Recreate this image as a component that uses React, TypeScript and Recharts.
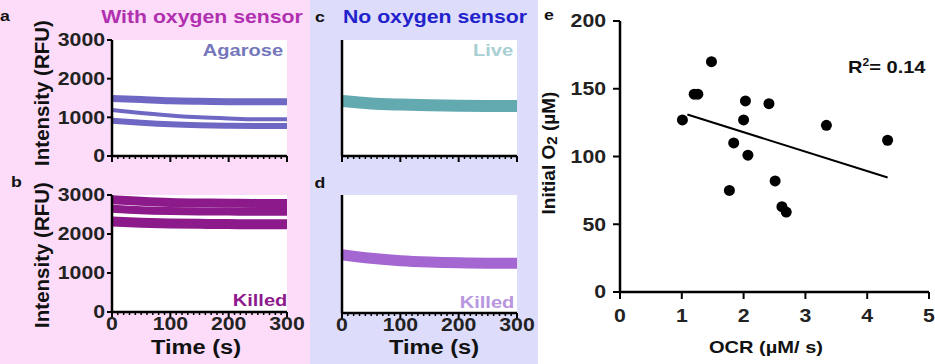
import React from 'react'
import { LineChart, Line, XAxis, YAxis, CartesianGrid, ScatterChart, Scatter } from 'recharts'

const time = [0, 50, 100, 150, 200, 250, 300]
const agaroseHigh = [1490, 1460, 1430, 1415, 1405, 1400, 1400]
const agaroseMid = [1190, 1110, 1050, 1000, 970, 950, 950]
const agaroseLow = [910, 860, 820, 795, 780, 775, 775]
const killedSensorHigh = [2880, 2840, 2810, 2795, 2790, 2785, 2785]
const killedSensorMid = [2650, 2610, 2590, 2580, 2575, 2570, 2570]
const killedSensorLow = [2320, 2290, 2270, 2260, 2255, 2250, 2250]
const liveNoSensor = [1420, 1360, 1330, 1310, 1300, 1295, 1295]
const killedNoSensor = [1480, 1390, 1330, 1295, 1275, 1265, 1265]

const timeTicks = [0, 10, 20, 30, 40, 50, 60, 70, 80, 90, 100, 110, 120, 130, 140, 150, 160, 170, 180, 190, 200, 210, 220, 230, 240, 250, 260, 270, 280, 290, 300]
const intensityTicks = [0, 1000, 2000, 3000]

// panel e
const ocr = [1.01, 1.48, 1.2, 1.26, 2.03, 2.0, 2.41, 1.84, 2.07, 3.34, 4.33, 2.51, 1.77, 2.62, 2.69]
const initialO2 = [127, 170, 146, 146, 141, 127, 139, 110, 101, 123, 112, 82, 75, 63, 59]
const fitOcr = [1.09, 4.33]
const fitO2 = [131, 84.5]
const ocrTicks = [0, 1, 2, 3, 4, 5]
const o2Ticks = [0, 50, 100, 150, 200]

const FONT = '"Liberation Sans", Arial, sans-serif'
const STRETCH = 1.18

const PINK = '#fcdcf8'
const LAVENDER = '#dddcfa'

function Txt({ x, y, size, color = '#111', rotate = false, align = 'center', children }: any) {
  const tx = align === 'center' ? '-50%' : '0'
  const transform = rotate
    ? 'translate(-50%,-50%) rotate(-90deg)'
    : `translate(${tx},-50%) scaleX(${STRETCH})`
  return (
    <div
      style={{
        position: 'absolute',
        left: x,
        top: y,
        fontFamily: FONT,
        fontWeight: 700,
        fontSize: size,
        color,
        lineHeight: 1,
        whiteSpace: 'nowrap',
        transform,
        transformOrigin: align === 'center' ? 'center' : 'left center',
      }}
    >
      {children}
    </div>
  )
}

const YTick = (props: any) => {
  const { x, y, payload } = props
  return (
    <text
      transform={`translate(${x},${y}) scale(${STRETCH},1)`}
      textAnchor="end"
      dy="0.35em"
      fontSize={18}
      fontWeight={700}
      fontFamily={FONT}
      fill="#222"
    >
      {payload.value}
    </text>
  )
}

const XTick = (props: any) => {
  const { x, y, payload } = props
  return (
    <text
      transform={`translate(${x},${y}) scale(${STRETCH},1)`}
      textAnchor="middle"
      dy="0.71em"
      fontSize={18}
      fontWeight={700}
      fontFamily={FONT}
      fill="#222"
    >
      {payload.value}
    </text>
  )
}

// minor ticks every 10 s, longer major ticks with labels every 100 s
const makeTimeTick = (show: boolean) => (props: any) => {
  const { x, y, payload } = props
  const major = payload.value % 100 === 0
  if (!major) {
    return <line x1={x} x2={x} y1={y - 4} y2={y - 1} stroke="#000" strokeWidth={1.5} />
  }
  return (
    <g>
      <line x1={x} x2={x} y1={y - 4} y2={y + 2} stroke="#000" strokeWidth={2} />
      {show && (
        <text
          transform={`translate(${x},${y + 1}) scale(${STRETCH},1)`}
          textAnchor="middle"
          dy="0.71em"
          fontSize={18}
          fontWeight={700}
          fontFamily={FONT}
          fill="#222"
        >
          {payload.value}
        </text>
      )}
    </g>
  )
}

const axisLine = { stroke: '#000', strokeWidth: 2.5 }
const tickLine = { stroke: '#000', strokeWidth: 2 }

function TracePanel({ left, top, width, height, margin, yWidth, xHeight, series, showY, showX }: any) {
  const rows = time.map((t, i) => {
    const r: any = { t }
    series.forEach((s: any, k: number) => {
      r['s' + k] = s.values[i]
    })
    return r
  })
  return (
    <div style={{ position: 'absolute', left, top }}>
      <LineChart width={width} height={height} data={rows} margin={margin}>
        <CartesianGrid fill="#fff" stroke="none" />
        <XAxis
          type="number"
          dataKey="t"
          domain={[0, 300]}
          ticks={timeTicks}
          interval={0}
          height={xHeight}
          axisLine={axisLine}
          tickLine={false}
          tickSize={3}
          tickMargin={1}
          tick={makeTimeTick(showX)}
        />
        <YAxis
          type="number"
          domain={[0, 3000]}
          ticks={intensityTicks}
          width={yWidth}
          axisLine={axisLine}
          tickLine={tickLine}
          tickSize={5}
          tickMargin={2}
          tick={showY ? <YTick /> : false}
        />
        {series.map((s: any, k: number) => (
          <Line
            key={k}
            type="monotone"
            dataKey={'s' + k}
            stroke={s.color}
            strokeWidth={s.width}
            dot={false}
            isAnimationActive={false}
          />
        ))}
      </LineChart>
    </div>
  )
}

const Dot = (props: any) => <circle cx={props.cx} cy={props.cy} r={5.5} fill="#000" />

export default function App() {
  const points = ocr.map((x, i) => ({ x, y: initialO2[i] }))
  const fit = fitOcr.map((x, i) => ({ x, y: fitO2[i] }))
  const aColor = '#6e68c4'
  const bColor = '#8c1a8a'

  return (
    <div style={{ position: 'absolute', left: 0, top: 0, width: 935, height: 364, overflow: 'hidden', background: '#fff' }}>
      <div style={{ position: 'absolute', left: 0, top: 0, width: 310, height: 364, background: PINK }} />
      <div style={{ position: 'absolute', left: 310, top: 0, width: 228, height: 364, background: LAVENDER }} />

      <TracePanel
        left={0}
        top={0}
        width={310}
        height={175}
        margin={{ top: 40, right: 23, bottom: 11, left: 0 }}
        yWidth={112}
        xHeight={8}
        showY
        showX={false}
        series={[
          { values: agaroseHigh, color: aColor, width: 7 },
          { values: agaroseMid, color: aColor, width: 4 },
          { values: agaroseLow, color: aColor, width: 6 },
        ]}
      />
      <TracePanel
        left={0}
        top={175}
        width={310}
        height={189}
        margin={{ top: 20, right: 23, bottom: 22, left: 0 }}
        yWidth={112}
        xHeight={30}
        showY
        showX
        series={[
          { values: killedSensorHigh, color: bColor, width: 9 },
          { values: killedSensorMid, color: bColor, width: 8 },
          { values: killedSensorLow, color: bColor, width: 10 },
        ]}
      />
      <TracePanel
        left={305}
        top={0}
        width={230}
        height={175}
        margin={{ top: 40, right: 18, bottom: 11, left: 0 }}
        yWidth={37}
        xHeight={8}
        showY={false}
        showX={false}
        series={[{ values: liveNoSensor, color: '#62aab0', width: 12 }]}
      />
      <TracePanel
        left={305}
        top={175}
        width={230}
        height={189}
        margin={{ top: 20, right: 18, bottom: 21, left: 0 }}
        yWidth={37}
        xHeight={30}
        showY={false}
        showX
        series={[{ values: killedNoSensor, color: '#a466d0', width: 11 }]}
      />

      <div style={{ position: 'absolute', left: 540, top: 0 }}>
        <ScatterChart width={395} height={364} margin={{ top: 21, right: 6, bottom: 42, left: 0 }}>
          <XAxis
            type="number"
            dataKey="x"
            domain={[0, 5]}
            ticks={ocrTicks}
            interval={0}
            height={30}
            axisLine={axisLine}
            tickLine={tickLine}
            tickSize={7}
            tickMargin={10}
            tick={<XTick />}
          />
          <YAxis
            type="number"
            dataKey="y"
            domain={[0, 200]}
            ticks={o2Ticks}
            interval={0}
            width={80}
            axisLine={axisLine}
            tickLine={tickLine}
            tickSize={7}
            tickMargin={7}
            tick={<YTick />}
          />
          <Scatter
            data={fit}
            line={{ stroke: '#000', strokeWidth: 2 }}
            lineType="joint"
            shape={() => <g />}
            isAnimationActive={false}
          />
          <Scatter data={points} shape={<Dot />} isAnimationActive={false} />
        </ScatterChart>
      </div>

      <Txt x={0} y={15} size={15} align="left">a</Txt>
      <Txt x={202} y={17} size={18} color="#b030b0">With oxygen sensor</Txt>
      <Txt x={243} y={50} size={17} color="#7577bb">Agarose</Txt>
      <Txt x={42} y={93} size={20.5} rotate>Intensity (RFU)</Txt>

      <Txt x={11} y={181} size={15} align="left">b</Txt>
      <Txt x={42} y={255} size={20.5} rotate>Intensity (RFU)</Txt>
      <Txt x={260} y={300} size={17} color="#8e1a8e">Killed</Txt>
      <Txt x={196} y={347} size={20}>Time (s)</Txt>

      <Txt x={320} y={16} size={15}>c</Txt>
      <Txt x={435} y={17} size={18} color="#2222cc">No oxygen sensor</Txt>
      <Txt x={493} y={50} size={17} color="#a8cfd3">Live</Txt>

      <Txt x={320} y={182} size={15}>d</Txt>
      <Txt x={487} y={302} size={17} color="#b896e0">Killed</Txt>
      <Txt x={434} y={347} size={20}>Time (s)</Txt>

      <Txt x={549} y={14} size={15}>e</Txt>
      <Txt x={549} y={153} size={19} rotate>
        Initial O<span style={{ fontSize: '0.8em', verticalAlign: '-0.15em' }}>2</span> (µM)
      </Txt>
      <Txt x={766} y={347} size={17}>OCR (µM/ s)</Txt>
      <Txt x={848} y={67} size={17} align="left">
        R<sup style={{ fontSize: '0.6em', verticalAlign: '0.7em' }}>2</sup>= 0.14
      </Txt>
    </div>
  )
}
